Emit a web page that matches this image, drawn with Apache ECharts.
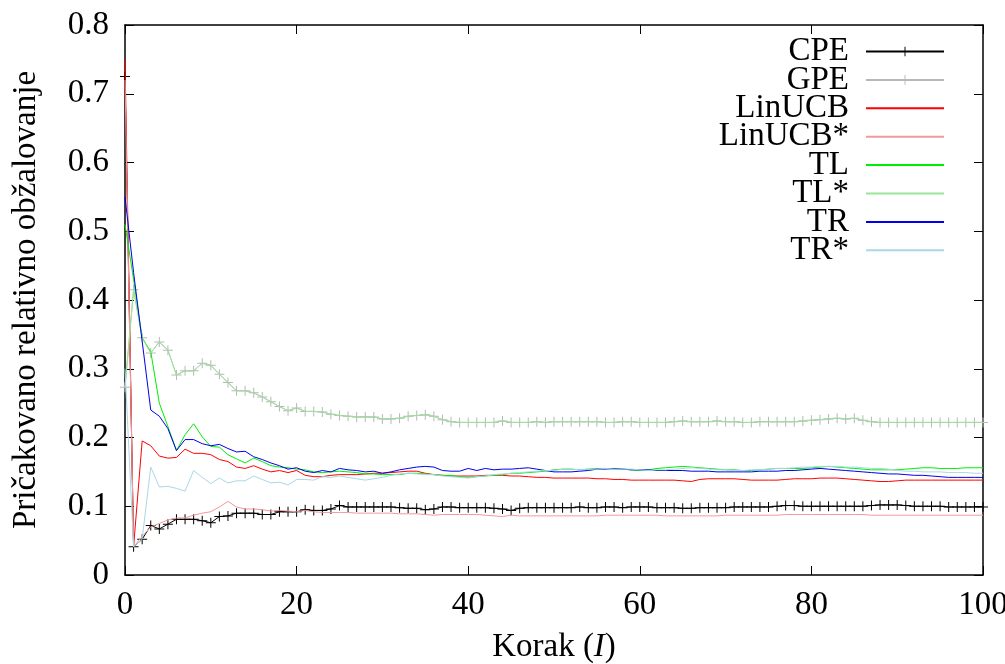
<!DOCTYPE html>
<html><head><meta charset="utf-8">
<script src="https://cdn.jsdelivr.net/npm/echarts@6/dist/echarts.min.js"></script>
<style>html,body{margin:0;padding:0;background:#fff}#c{width:1005px;height:664px}</style>
</head><body><div id="c"></div>
<script>
const seriesNames = ['CPE','GPE','LinUCB','LinUCB*','TL','TL*','TR','TR*'];
const xTicks = [0,20,40,60,80,100];
const yTicks = [0,0.1,0.2,0.3,0.4,0.5,0.6,0.7,0.8];

const cpe = [0.725,0.041,0.052,0.072,0.067,0.074,0.081,0.081,0.081,0.079,
0.076,0.085,0.086,0.090,0.090,0.090,0.088,0.088,0.092,0.092,
0.092,0.095,0.094,0.094,0.096,0.101,0.099,0.099,0.099,0.099,
0.099,0.099,0.098,0.097,0.097,0.095,0.096,0.099,0.099,0.098,
0.098,0.098,0.098,0.097,0.096,0.094,0.097,0.098,0.098,0.098,
0.098,0.098,0.098,0.099,0.098,0.098,0.099,0.099,0.098,0.099,
0.099,0.099,0.098,0.098,0.098,0.097,0.097,0.098,0.098,0.098,
0.098,0.099,0.099,0.099,0.099,0.099,0.100,0.101,0.101,0.100,
0.100,0.100,0.100,0.100,0.100,0.100,0.100,0.101,0.102,0.102,
0.102,0.101,0.100,0.100,0.100,0.100,0.099,0.099,0.099,0.099,0.099];

const gpe = [0.273,0.415,0.345,0.323,0.339,0.327,0.291,0.297,0.297,0.308,
0.305,0.292,0.280,0.268,0.268,0.265,0.259,0.252,0.245,0.239,
0.243,0.238,0.238,0.237,0.234,0.232,0.231,0.230,0.230,0.230,
0.227,0.227,0.228,0.231,0.232,0.233,0.231,0.226,0.223,0.222,
0.222,0.222,0.222,0.222,0.224,0.222,0.222,0.222,0.223,0.222,
0.223,0.223,0.223,0.223,0.223,0.223,0.222,0.222,0.223,0.223,
0.222,0.222,0.222,0.222,0.223,0.224,0.223,0.223,0.223,0.224,
0.223,0.223,0.222,0.222,0.223,0.223,0.223,0.223,0.223,0.224,
0.225,0.226,0.227,0.228,0.227,0.228,0.225,0.223,0.222,0.222,
0.222,0.222,0.222,0.222,0.222,0.222,0.222,0.222,0.222,0.222,0.222];

const linucb = [0.750,0.041,0.195,0.188,0.173,0.170,0.171,0.183,0.177,0.177,
0.175,0.168,0.165,0.157,0.155,0.159,0.154,0.150,0.152,0.149,
0.152,0.145,0.143,0.143,0.145,0.146,0.146,0.146,0.147,0.148,
0.148,0.149,0.150,0.151,0.151,0.148,0.146,0.145,0.144,0.144,
0.144,0.144,0.145,0.145,0.145,0.144,0.144,0.143,0.142,0.142,
0.141,0.141,0.141,0.141,0.141,0.140,0.140,0.139,0.139,0.138,
0.138,0.138,0.138,0.138,0.138,0.137,0.136,0.139,0.140,0.140,
0.140,0.140,0.139,0.138,0.138,0.138,0.138,0.139,0.140,0.140,
0.140,0.141,0.141,0.141,0.140,0.139,0.138,0.137,0.136,0.136,
0.137,0.138,0.138,0.138,0.138,0.138,0.138,0.138,0.138,0.138,0.138];

const linucbStar = [0.720,0.041,0.056,0.070,0.075,0.080,0.083,0.083,0.087,0.090,
0.092,0.099,0.107,0.099,0.096,0.096,0.095,0.093,0.094,0.093,
0.092,0.094,0.092,0.091,0.091,0.091,0.091,0.090,0.090,0.090,
0.090,0.090,0.089,0.089,0.089,0.088,0.087,0.088,0.088,0.088,
0.088,0.088,0.087,0.086,0.085,0.087,0.086,0.086,0.086,0.086,
0.086,0.086,0.086,0.086,0.086,0.086,0.087,0.087,0.087,0.087,
0.087,0.087,0.087,0.086,0.086,0.086,0.086,0.086,0.086,0.086,
0.087,0.087,0.087,0.087,0.087,0.087,0.087,0.088,0.088,0.088,
0.088,0.088,0.088,0.088,0.088,0.088,0.088,0.087,0.087,0.087,
0.087,0.087,0.087,0.087,0.087,0.087,0.087,0.087,0.087,0.087,0.087];

const tl = [0.510,0.430,0.345,0.325,0.250,0.216,0.181,0.204,0.220,0.201,
0.187,0.186,0.175,0.169,0.163,0.170,0.165,0.159,0.157,0.156,
0.154,0.153,0.150,0.149,0.150,0.151,0.150,0.149,0.147,0.147,
0.146,0.146,0.146,0.148,0.148,0.147,0.146,0.145,0.145,0.143,
0.142,0.143,0.144,0.145,0.146,0.148,0.148,0.149,0.150,0.151,
0.153,0.154,0.154,0.153,0.154,0.155,0.155,0.154,0.154,0.153,
0.152,0.153,0.155,0.156,0.157,0.158,0.157,0.156,0.155,0.154,
0.153,0.153,0.152,0.152,0.153,0.154,0.155,0.155,0.155,0.155,
0.156,0.157,0.158,0.157,0.156,0.155,0.154,0.153,0.153,0.153,
0.153,0.154,0.155,0.156,0.156,0.155,0.155,0.155,0.156,0.156,0.156];

const tlStar = gpe;

const tr = [0.550,0.440,0.340,0.240,0.231,0.213,0.181,0.197,0.197,0.191,
0.188,0.190,0.184,0.179,0.180,0.172,0.168,0.163,0.159,0.154,
0.156,0.151,0.149,0.152,0.150,0.155,0.153,0.152,0.150,0.151,
0.148,0.150,0.153,0.155,0.157,0.158,0.157,0.152,0.151,0.151,
0.155,0.152,0.155,0.153,0.154,0.154,0.155,0.156,0.154,0.152,
0.150,0.150,0.150,0.151,0.152,0.154,0.154,0.155,0.154,0.153,
0.153,0.153,0.152,0.152,0.152,0.152,0.151,0.151,0.151,0.150,
0.150,0.150,0.150,0.150,0.151,0.151,0.151,0.152,0.152,0.153,
0.154,0.155,0.154,0.153,0.152,0.151,0.150,0.149,0.148,0.147,
0.147,0.146,0.145,0.145,0.144,0.143,0.142,0.142,0.142,0.142,0.142];

const trStar = [0.300,0.041,0.052,0.157,0.128,0.129,0.126,0.122,0.152,0.142,
0.133,0.141,0.134,0.137,0.137,0.144,0.139,0.134,0.135,0.131,
0.139,0.139,0.138,0.143,0.142,0.144,0.142,0.140,0.138,0.140,
0.142,0.145,0.147,0.148,0.147,0.146,0.146,0.144,0.143,0.142,
0.141,0.143,0.144,0.146,0.147,0.148,0.149,0.150,0.151,0.152,
0.152,0.154,0.154,0.153,0.154,0.154,0.155,0.154,0.154,0.154,
0.153,0.152,0.153,0.153,0.154,0.155,0.156,0.155,0.154,0.153,
0.153,0.152,0.152,0.153,0.153,0.154,0.155,0.155,0.156,0.157,
0.157,0.158,0.158,0.158,0.157,0.157,0.156,0.155,0.155,0.154,
0.152,0.151,0.151,0.150,0.150,0.150,0.149,0.149,0.149,0.148,0.148];

const FONT = 'Liberation Serif';
const FS = 33;
const PLUS = 'path://M4.5,0H5.5V4.5H10V5.5H5.5V10H4.5V5.5H0V4.5H4.5Z';

function pairs(arr){ return arr.map((v,i)=>[i,v]); }

const styles = [
  {data:cpe, color:'#000000', marker:true},
  {data:gpe, color:'#b8b8b8', marker:true},
  {data:linucb, color:'#ff0000'},
  {data:linucbStar, color:'#f29a9a'},
  {data:tl, color:'#00ee00'},
  {data:tlStar, color:'#98e698'},
  {data:tr, color:'#0000ee'},
  {data:trStar, color:'#a8d8e8'}
];

const series = styles.map((s,k)=>({
  name: seriesNames[k],
  type:'line',
  data: pairs(s.data),
  symbol: s.marker ? PLUS : 'none',
  symbolSize: 10,
  showSymbol: !!s.marker,
  itemStyle:{color:s.color},
  lineStyle:{color:s.color, width:1},
  emphasis:{disabled:true},
  animation:false,
  z: 2 + k
}));

const legendData = seriesNames.map((n,k)=> styles[k].marker ? {name:n} : {name:n, itemStyle:{opacity:0}});

const chart = echarts.init(document.getElementById('c'), null, {renderer:'canvas'});
chart.setOption({
  backgroundColor:'#fff',
  animation:false,
  textStyle:{fontFamily:FONT},
  grid:{left:125, right:22, top:25, bottom:89, containLabel:false, outerBoundsMode:'none'},
  legend:{
    orient:'vertical', align:'right', right:55, top:30,
    itemWidth:78, itemHeight:12, itemGap:-4.6,
    textStyle:{fontFamily:FONT, fontSize:FS, color:'#000', padding:[0,12,0,0]},
    data: legendData, selectedMode:false
  },
  xAxis:[{
    type:'value', min:0, max:100, interval:20,
    name:'{a|Korak (}{b|I}{a|)}', nameLocation:'middle', nameGap:56,
    nameTextStyle:{rich:{a:{fontFamily:FONT,fontSize:FS,color:'#000'},b:{fontFamily:FONT,fontSize:FS,fontStyle:'italic',color:'#000'}}},
    axisLine:{show:true, onZero:false, lineStyle:{color:'#000', width:1.5}},
    axisTick:{show:true, inside:true, length:9, lineStyle:{color:'#000'}},
    axisLabel:{fontFamily:FONT, fontSize:FS, color:'#000', margin:14},
    splitLine:{show:false}
  },{
    type:'value', min:0, max:100, interval:20, position:'top',
    axisLine:{show:true, onZero:false, lineStyle:{color:'#000', width:1.5}},
    axisTick:{show:true, inside:true, length:9, lineStyle:{color:'#000'}},
    axisLabel:{show:false}, splitLine:{show:false}
  }],
  yAxis:[{
    type:'value', min:0, max:0.8, interval:0.1,
    name:'Pričakovano relativno obžalovanje', nameLocation:'middle', nameGap:82,
    nameTextStyle:{fontFamily:FONT, fontSize:FS, color:'#000'},
    axisLine:{show:true, onZero:false, lineStyle:{color:'#000', width:1.5}},
    axisTick:{show:true, inside:true, length:9, lineStyle:{color:'#000'}},
    axisLabel:{fontFamily:FONT, fontSize:FS, color:'#000', margin:16,
      formatter:(v)=>{ const t = yTicks.find(y=>Math.abs(y-v)<1e-9); return t===0?'0':String(+v.toFixed(1)); }},
    splitLine:{show:false}
  },{
    type:'value', min:0, max:0.8, interval:0.1, position:'right',
    axisLine:{show:true, onZero:false, lineStyle:{color:'#000', width:1.5}},
    axisTick:{show:true, inside:true, length:9, lineStyle:{color:'#000'}},
    axisLabel:{show:false}, splitLine:{show:false}
  }],
  series: series
});
</script></body></html>
